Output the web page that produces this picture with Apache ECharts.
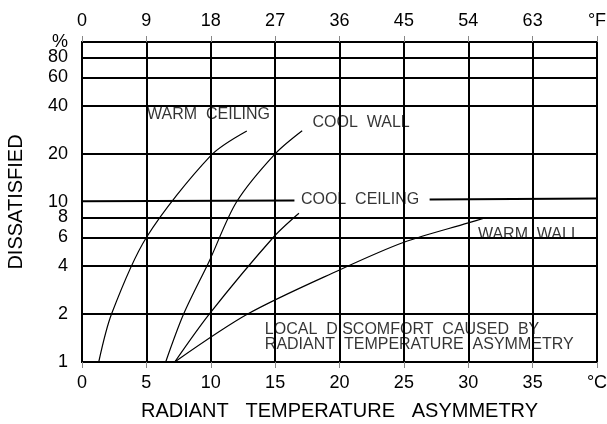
<!DOCTYPE html>
<html>
<head>
<meta charset="utf-8">
<script src="https://cdn.jsdelivr.net/npm/echarts@6/dist/echarts.min.js"></script>
<style>
html, body { margin: 0; background: #fff; }
#chart { width: 607px; height: 424px; }
</style>
</head>
<body>
<div id="chart"></div>
<script>
// curves: [°C, % dissatisfied]
var warmCeiling = [[1.3, 1], [2.3, 2], [5, 6], [10, 19.5], [12.8, 27.8]];
var coolWall = [[6.5, 1], [7.9, 2], [9.9, 4.3], [12.0, 10], [15.0, 20], [17.1, 27.9]];
var coolCeiling = [[7.2, 1], [9.9, 2], [14.85, 6], [16.85, 8.5]];
var warmWall = [[7.2, 1], [12.9, 2], [20, 3.76], [25, 5.6], [30, 7.4], [31.4, 8.0]];
// the 10 % line, broken by the COOL CEILING label
var tenLineLeft = [[0, 10.1], [16.5, 10.2]];
var tenLineRight = [[27, 10.35], [40, 10.5]];

var yTicks = [1, 2, 4, 6, 8, 10, 20, 40, 60, 80, 100];
var yTickLabels = ['1', '2', '4', '6', '8', '10', '20', '40', '60', '80', '%'];

var notes = [
    { name: 'WARM  CEILING', value: [5.05, 35] },
    { name: 'COOL  WALL', value: [17.9, 31.2] },
    { name: 'COOL  CEILING', value: [17.0, 10.3] },
    { name: 'WARM  WALL', value: [30.75, 6.3] },
    { name: 'LOCAL  DISCOMFORT  CAUSED  BY', value: [14.2, 1.585] },
    { name: 'RADIANT  TEMPERATURE  ASYMMETRY', value: [14.2, 1.277] }
];

var font = 'Liberation Sans, Arial, sans-serif';

function curve(data) {
    return {
        type: 'line',
        data: data,
        smooth: 0.3,
        showSymbol: false,
        silent: true,
        lineStyle: { color: '#000', width: 1.2 },
        z: 5
    };
}

var gridLines = yTicks.map(function (v, i) {
    var item = {
        yAxis: v,
        label: { formatter: yTickLabels[i] }
    };
    if (v === 10 || v === 1 || v === 100) {
        item.lineStyle = { color: 'rgba(0,0,0,0)' };
    }
    return item;
});

var chart = echarts.init(document.getElementById('chart'));
chart.setOption({
    animation: false,
    grid: {
        left: 82, right: 10, top: 42, bottom: 62,
        outerBoundsMode: 'none',
        show: true, borderColor: '#000', borderWidth: 2
    },
    xAxis: [
        {
            type: 'value', min: 0, max: 40, interval: 5,
            position: 'bottom',
            name: 'RADIANT   TEMPERATURE   ASYMMETRY',
            nameLocation: 'middle', nameGap: 39,
            nameTextStyle: { color: '#000', fontSize: 20, fontFamily: font },
            axisLine: { show: true, lineStyle: { color: '#000', width: 2 } },
            axisTick: { show: true, length: 6, lineStyle: { color: '#888', width: 1 } },
            axisLabel: {
                color: '#000', fontSize: 18, fontFamily: font, margin: 12,
                formatter: function (v) { return v === 40 ? '°C' : v; }
            },
            splitLine: { show: true, lineStyle: { color: '#000', width: 2 } }
        },
        {
            type: 'value', min: 0, max: 72, interval: 9,
            position: 'top',
            axisLine: { show: true, lineStyle: { color: '#000', width: 2 } },
            axisTick: { show: true, length: 6, lineStyle: { color: '#888', width: 1 } },
            axisLabel: {
                color: '#000', fontSize: 18, fontFamily: font, margin: 12,
                formatter: function (v) { return v === 72 ? '°F' : v; }
            },
            splitLine: { show: false }
        }
    ],
    yAxis: {
        type: 'log', logBase: 10, min: 1, max: 100,
        name: 'DISSATISFIED',
        nameLocation: 'middle', nameGap: 56,
        nameTextStyle: { color: '#000', fontSize: 20, fontFamily: font },
        axisLine: { show: true, lineStyle: { color: '#000', width: 2 } },
        axisTick: { show: false },
        axisLabel: { show: false },
        splitLine: { show: false }
    },
    series: [
        {
            type: 'line',
            data: [],
            silent: true,
            markLine: {
                silent: true,
                symbol: 'none',
                lineStyle: { color: '#000', width: 2, type: 'solid' },
                label: {
                    position: 'start', distance: 14,
                    color: '#000', fontSize: 18, fontFamily: font
                },
                data: gridLines
            }
        },
        {
            type: 'line', data: tenLineLeft, showSymbol: false, silent: true,
            lineStyle: { color: '#000', width: 2 }
        },
        {
            type: 'line', data: tenLineRight, showSymbol: false, silent: true,
            lineStyle: { color: '#000', width: 2 }
        },
        curve(warmCeiling),
        curve(coolWall),
        curve(coolCeiling),
        curve(warmWall),
        {
            type: 'scatter',
            data: notes,
            symbolSize: 0,
            silent: true,
            z: 10,
            label: {
                show: true, position: 'right', distance: 0,
                formatter: '{b}',
                color: '#000', fontSize: 16, fontFamily: font
            }
        }
    ]
});
</script>
</body>
</html>
